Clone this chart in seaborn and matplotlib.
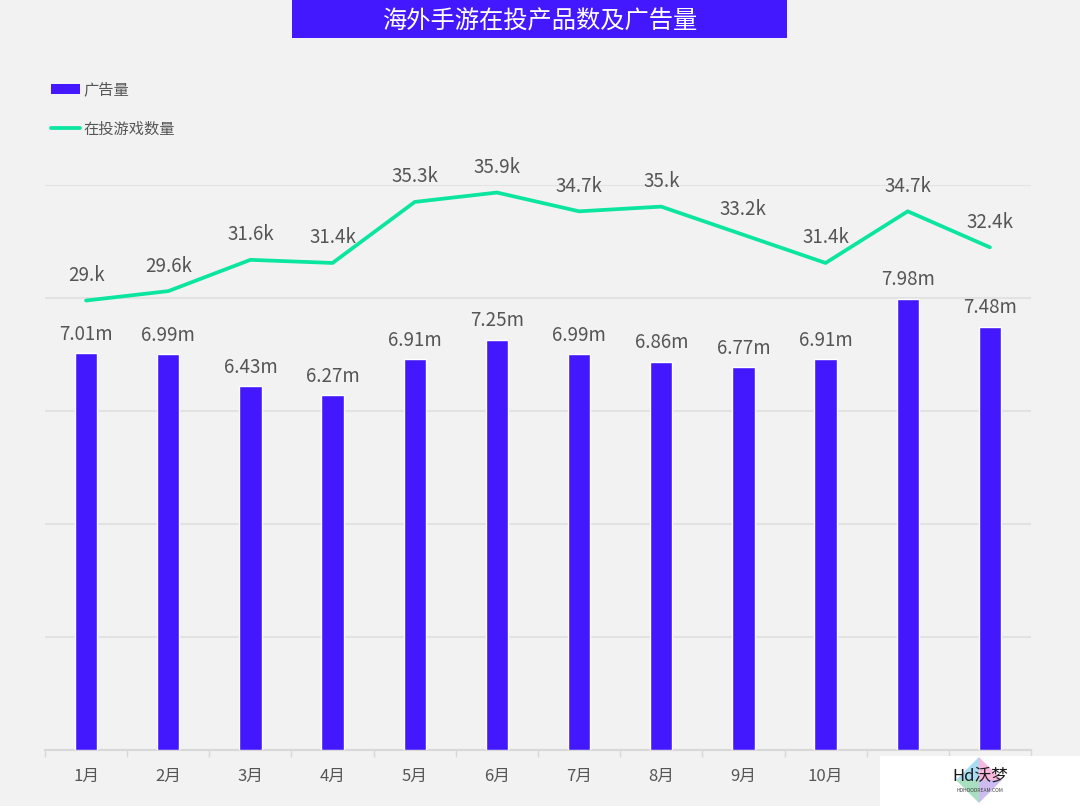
import matplotlib
matplotlib.use("Agg")
import matplotlib.pyplot as plt
import seaborn as sns
import pandas as pd
from matplotlib.patches import Rectangle, Polygon

months = ["1月","2月","3月","4月","5月","6月","7月","8月","9月","10月","11月","12月"]
ads = [7.01,6.99,6.43,6.27,6.91,7.25,6.99,6.86,6.77,6.91,7.98,7.48]
games = [29.0,29.6,31.6,31.4,35.3,35.9,34.7,35.0,33.2,31.4,34.7,32.4]
ad_labels = ["7.01m","6.99m","6.43m","6.27m","6.91m","7.25m","6.99m","6.86m","6.77m","6.91m","7.98m","7.48m"]
game_labels = ["29.k","29.6k","31.6k","31.4k","35.3k","35.9k","34.7k","35.k","33.2k","31.4k","34.7k","32.4k"]
title = "海外手游在投产品数及广告量"
legend_names = ["广告量","在投游戏数量"]

BG="#f2f2f2"; BLUE="#4318ff"; GREEN="#0be5a0"; TXT="#555555"
sns.set_theme(style="white")
plt.rcParams['font.family']=['Noto Sans CJK SC','DejaVu Sans']
fig=plt.figure(figsize=(10.8,8.06),dpi=100,facecolor=BG)
W,H=1080,806
ax=fig.add_axes([45/W,1-749.5/H,(1031-45)/W,(749.5-185.5)/H],facecolor="none")
df=pd.DataFrame({"m":months,"ads":ads,"games":games})
sns.barplot(data=df,x="m",y="ads",color=BLUE,width=0.27,saturation=1,ax=ax,zorder=3)
ax.set_xlim(-0.5,11.5); ax.set_ylim(0,9.98)
ax.set_yticks([0,1.996,3.992,5.988,7.984,9.98]); ax.set_yticklabels([])
ax.yaxis.grid(True,color="#e2e2e2",lw=1.5); ax.set_axisbelow(True)
ax.set_xlabel(""); ax.set_ylabel("")
for s in ["top","left","right"]: ax.spines[s].set_visible(False)
ax.spines["bottom"].set_color("#d8d8d8"); ax.spines["bottom"].set_linewidth(1.5)
ax.set_xticks([i-0.5 for i in range(13)],minor=True)
ax.tick_params(axis="x",which="minor",length=5,color="#d8d8d8",width=1,bottom=True)
ax.tick_params(axis="x",which="major",length=0,labelsize=12,labelcolor=TXT,pad=13)
ax.tick_params(axis="y",length=0)
# The watermark covers the last two month labels in the reference
for lab in ax.get_xticklabels()[10:]:
    lab.set_visible(False)
for i,(v,l) in enumerate(zip(ads,ad_labels)):
    ax.annotate(l,(i,v),xytext=(0,6),textcoords="offset points",ha="center",va="bottom",fontsize=13.5,color=TXT,zorder=5)
ax2=ax.twinx()
ax2.set_ylim(0.31,36.35); ax2.axis("off")
sns.lineplot(x=list(range(12)),y=games,color=GREEN,lw=2.7,ax=ax2,zorder=4)
ax2.set_xlim(-0.5,11.5)
for i,(v,l) in enumerate(zip(games,game_labels)):
    ax2.annotate(l,(i,v),xytext=(0,10.5),textcoords="offset points",ha="center",va="bottom",fontsize=13.5,color=TXT,zorder=5)
# title band
fig.add_artist(Rectangle((292/W,1-38/H),495/W,38/H,transform=fig.transFigure,color=BLUE,lw=0))
fig.text(539.5/W,1-22/H,title,color="white",fontsize=17.5,ha="center",va="center",fontweight="medium")
# legend
fig.add_artist(Rectangle((51/W,1-94/H),29/W,10/H,transform=fig.transFigure,color=BLUE,lw=0))
fig.text(83/W,1-89.5/H,legend_names[0],color=TXT,fontsize=11,va="center")
fig.add_artist(plt.Line2D([51/W,80/W],[1-128/H,1-128/H],color=GREEN,lw=2.7,transform=fig.transFigure))
fig.text(83/W,1-129.5/H,legend_names[1],color=TXT,fontsize=11,va="center")
# watermark
fig.add_artist(Rectangle((880/W,0),200/W,50/H,transform=fig.transFigure,color="white",lw=0,zorder=8))
cx,cy,rx,ry=979,780,23,23
quads=[((cx,cy-ry),(cx-rx,cy),"#a8dcf0"),((cx,cy-ry),(cx+rx,cy),"#f6b8dc"),((cx+rx,cy),(cx,cy+ry),"#cdbcf0"),((cx-rx,cy),(cx,cy+ry),"#a8dfc0")]
for a,b,c in quads:
    fig.add_artist(Polygon([(cx/W,1-cy/H),(a[0]/W,1-a[1]/H),(b[0]/W,1-b[1]/H)],closed=True,transform=fig.transFigure,color=c,lw=0,zorder=8.5))
fig.text(980/W,1-776/H,"Hd沃梦",color="#1a1a1a",fontsize=12,ha="center",va="center",zorder=9)
fig.text(980/W,1-790/H,"HDHOODREAM.COM",color="#444444",fontsize=3.6,ha="center",va="center",zorder=9)
fig.savefig("out.png",dpi=100,facecolor=BG)
